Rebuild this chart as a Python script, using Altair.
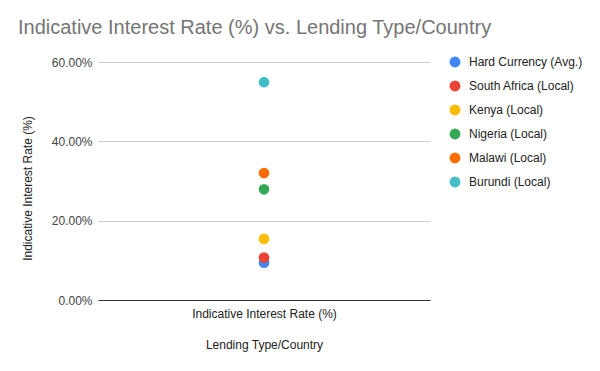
import altair as alt
import pandas as pd

series = ["Hard Currency (Avg.)", "South Africa (Local)", "Kenya (Local)",
          "Nigeria (Local)", "Malawi (Local)", "Burundi (Local)"]
rates = [0.094, 0.107, 0.154, 0.279, 0.320, 0.549]
category = "Indicative Interest Rate (%)"
colors = ["#4285F4", "#EA4335", "#FBBC04", "#34A853", "#FF6D01", "#46BDC6"]

df = pd.DataFrame({"series": series, "rate": rates, "cat": [category] * len(series)})

font = "Liberation Sans, Arial, sans-serif"

chart = alt.Chart(df).mark_circle(size=115, opacity=1).encode(
    x=alt.X("cat:N", title="Lending Type/Country",
            axis=alt.Axis(labelAngle=0, ticks=False, domainColor="#333333",
                          labelColor="#222222", labelFontSize=12, labelPadding=8,
                          titleFontSize=12, titleFontWeight="normal", titleColor="#222222",
                          titlePadding=20, labelFont=font, titleFont=font)),
    y=alt.Y("rate:Q", title="Indicative Interest Rate (%)",
            scale=alt.Scale(domain=[0, 0.6], nice=False),
            axis=alt.Axis(format=".2%", values=[0, 0.2, 0.4, 0.6], ticks=False, domain=False,
                          gridColor="#cccccc", labelColor="#444444", labelFontSize=12,
                          labelPadding=6, titleFontSize=12, titleFontWeight="normal",
                          titleColor="#222222", titlePadding=17, titleY=126,
                          labelFont=font, titleFont=font)),
    color=alt.Color("series:N", sort=series,
                    scale=alt.Scale(domain=series, range=colors),
                    legend=alt.Legend(title=None, orient="none", legendX=351, legendY=-6,
                                      symbolType="circle", symbolSize=120, symbolStrokeWidth=0,
                                      labelFontSize=12, labelColor="#222222", labelFont=font,
                                      rowPadding=12, labelOffset=8, symbolOpacity=1)),
    order=alt.Order("rate:Q"),
).properties(
    width=332, height=238,
    padding={"left": 90, "top": 54, "right": 160, "bottom": 60},
    autosize="none",
    title=alt.Title("Indicative Interest Rate (%) vs. Lending Type/Country",
                    anchor="start", frame="group", dx=-80, offset=18,
                    fontSize=20, fontWeight="normal", color="#757575", font=font),
).configure_view(stroke=None)

chart.save("out.html", embed_options={"renderer": "svg", "actions": False})
